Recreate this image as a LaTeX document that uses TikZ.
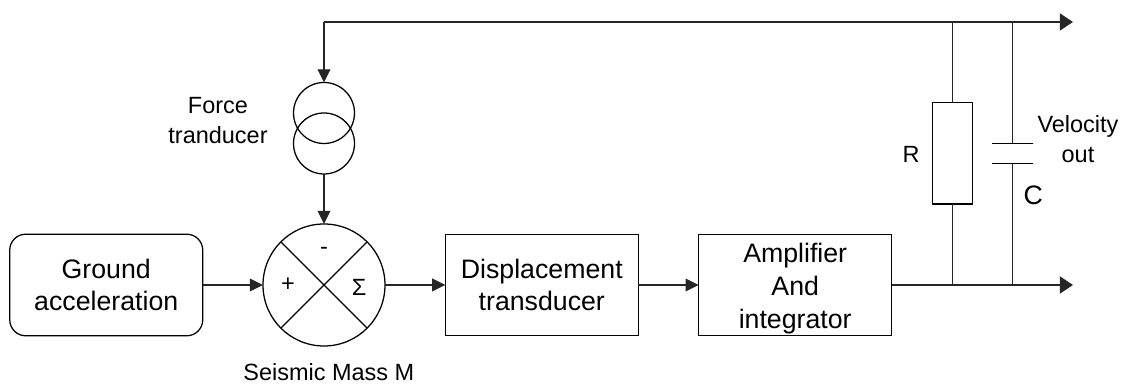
\documentclass[tikz,border=0pt]{standalone}
\usepackage{fontspec}
\setmainfont{Liberation Sans}
\usetikzlibrary{arrows.meta}
\tikzset{
	wire/.style={line width=0.9pt, color=black!85},
	feed/.style={wire, -{Triangle[length=0.33cm, width=0.32cm]}},
	outfeed/.style={wire, -{Triangle[length=0.33cm, width=0.43cm]}},
	blockbox/.style={draw, line width=0.9pt, minimum width=4.825cm, minimum height=2.54cm, inner sep=0, outer sep=0, align=center, font=\fontsize{19}{23.4}\selectfont},
	ringnode/.style={draw, circle, line width=0.9pt, inner sep=0, outer sep=0},
	plate/.style={draw, line width=0.9pt, minimum width=1.025cm, minimum height=0, inner sep=0, outer sep=0},
	lbl/.style={align=center, inner sep=0, font=\fontsize{16.7}{21.3}\selectfont}
}
\begin{document}
\begin{tikzpicture}
	%%%%% FRAME %%%%%
	\useasboundingbox (0, 0) rectangle (28.075, 9.625);
	
	%%%%% BLOCKS %%%%%
	\node[blockbox, rounded corners=0.4cm] (ground) at (2.656, 2.5) {Ground\\acceleration};
	\node[ringnode, minimum size=3.05cm] (summer) at (8.1, 2.5) {};
	\node[blockbox] (displace) at (13.545, 2.5) {Displacement\\transducer};
	\node[blockbox] (amp) at (19.88, 2.5) {\rule{0pt}{18.5pt}Amplifier\\And\\integrator};
	
	\draw[wire, color=black] (summer.45) -- (summer.225);
	\draw[wire, color=black] (summer.135) -- (summer.315);
	\node[lbl] (plus) at (7.2, 2.5) {+};
	\node[lbl] (minus) at (8.1, 3.36) {-};
	\node[lbl] (sigma) at (8.98, 2.45) {Σ};
	\node[lbl] (mass) at (8.22, 0.32) {Seismic Mass M};
	
	%%%%% FORCE TRANSDUCER %%%%%
	\node[ringnode, minimum size=1.525cm] (forceup) at (8.1, 6.8) {};
	\node[ringnode, minimum size=1.525cm] (forcedown) at (8.1, 6.0375) {};
	\node[lbl] (force) at (5.45, 6.6) {Force\\tranducer};
	
	%%%%% OUTPUT NETWORK %%%%%
	\coordinate (corner) at (8.1, 9.075);
	\coordinate (rtop) at (23.8125, 9.075);
	\coordinate (ctop) at (25.3125, 9.075);
	\coordinate (topout) at (26.825, 9.075);
	\coordinate (rbot) at (23.8125, 2.5);
	\coordinate (cbot) at (25.3125, 2.5);
	\coordinate (botout) at (26.825, 2.5);
	
	\node[draw, line width=0.9pt, minimum width=1.015cm, minimum height=2.53cm, inner sep=0, outer sep=0] (resistor) at (23.8125, 5.79) {};
	\node[plate] (capup) at (25.3125, 6.0425) {};
	\node[plate] (capdown) at (25.3125, 5.5325) {};
	
	\node[lbl] (rlabel) at (22.78, 5.76) {R};
	\node[lbl, font=\fontsize{19}{23.4}\selectfont] (clabel) at (25.83, 4.74) {C};
	\node[lbl] (velocity) at (26.95, 6.14) {Velocity\\out};
	
	%%%%% CONNECTORS %%%%%
	\draw[feed] (ground) -- (summer);
	\draw[feed] (summer) -- (displace);
	\draw[feed] (displace) -- (amp);
	\draw[feed] (forcedown) -- (summer);
	\draw[feed] (corner) -- (forceup);
	\draw[outfeed] (corner) -- (topout);
	\draw[outfeed] (amp) -- (botout);
	
	\draw[wire] (rtop) -- (resistor);
	\draw[wire] (resistor) -- (rbot);
	\draw[wire] (ctop) -- (capup);
	\draw[wire] (capdown) -- (cbot);
\end{tikzpicture}
\end{document}
